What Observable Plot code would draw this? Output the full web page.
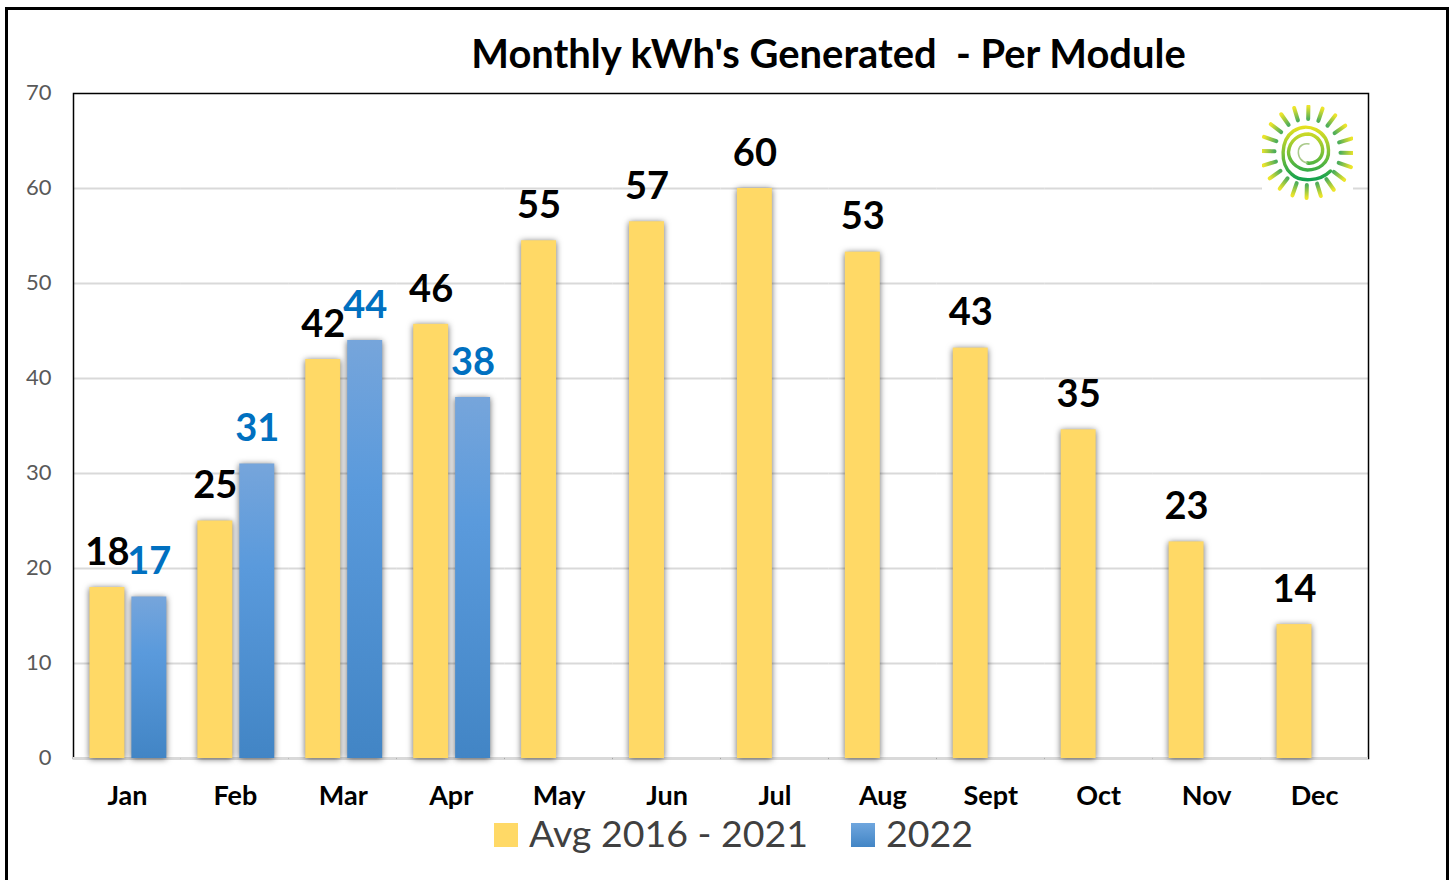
<!DOCTYPE html>
<html>
<head>
<meta charset="utf-8">
<script src="https://cdn.jsdelivr.net/npm/d3@7"></script>
<script src="https://cdn.jsdelivr.net/npm/@observablehq/plot@0.6"></script>
<style>
  html,body{margin:0;padding:0;background:#fff;width:1449px;height:880px;overflow:hidden;position:relative;font-family:Lato,"Open Sans",sans-serif}
  #chart{position:absolute;left:0;top:0}
  #border{position:absolute;left:5px;top:7px;width:1438px;height:900px;border:3px solid #000;box-sizing:content-box;pointer-events:none}
  #title{position:absolute;left:0;top:29px;width:1449px;padding-left:208px;box-sizing:border-box;text-align:center;font-size:39.9px;font-weight:700;line-height:48px;color:#000;white-space:pre}
  .lg{position:absolute;font-size:37.5px;line-height:44px;color:#404040;white-space:pre}
  .sw{position:absolute;width:24px;height:24px;top:823px}
  #logo{position:absolute;left:1262px;top:105px}
  .shadowBars rect{filter:drop-shadow(0 1px 3px rgba(0,0,0,.6))}
</style>
</head>
<body>
<div id="chart"></div>
<div id="title">Monthly kWh's Generated  - Per Module</div>
<div class="sw" style="left:494px;background:#FFD966"></div>
<div class="lg" style="left:529px;top:811px">Avg 2016 - 2021</div>
<div class="sw" style="left:851px;background:linear-gradient(#6FA6DE,#4285C5)"></div>
<div class="lg" style="left:886px;top:811px">2022</div>
<svg id="logo" width="91" height="95" viewBox="-45.5 -47 91 95"></svg>
<div id="border"></div>
<script>
const months = ["Jan","Feb","Mar","Apr","May","Jun","Jul","Aug","Sept","Oct","Nov","Dec"];
const avgValues = [18,25,42,45.7,54.5,56.5,60,53.3,43.2,34.6,22.8,14.1];
const avgLabels = [18,25,42,46,55,57,60,53,43,35,23,14];
const values2022 = [17,31,44,38];
const labels2022 = [17,31,44,38];
const seriesNames = ["Avg 2016 - 2021","2022"];
const yTicks = [0,10,20,30,40,50,60,70];
const gridTicks = [10,20,30,40,50,60];

const rows = [
  ...avgValues.map((v,i)=>({month:months[i],series:seriesNames[0],value:v,label:avgLabels[i]})),
  ...values2022.map((v,i)=>({month:months[i],series:seriesNames[1],value:v,label:labels2022[i]}))
];

const defs = () => {
  const d = d3.create("svg:defs");
  const g = d.append("linearGradient").attr("id","blueBar").attr("x1",0).attr("x2",0).attr("y1",0).attr("y2",1);
  g.append("stop").attr("offset","0").attr("stop-color","#76A5DB");
  g.append("stop").attr("offset","0.35").attr("stop-color","#5A9ADC");
  g.append("stop").attr("offset","1").attr("stop-color","#4285C5");
  return d.node();
};

const plot = Plot.plot({
  width:1449, height:880,
  marginLeft:73, marginRight:81, marginTop:93, marginBottom:122,
  style:{background:"transparent",fontFamily:"Lato, sans-serif"},
  fx:{domain:months,padding:0,round:false,label:null},
  x:{domain:seriesNames,paddingInner:0.167,paddingOuter:0.37,align:0.53,round:false,axis:null},
  y:{domain:[0,70],label:null},
  marks:[
    defs,
    Plot.ruleY(gridTicks,{stroke:"#D9D9D9",strokeWidth:2}),
    Plot.axisY({ticks:yTicks,tickSize:0,tickPadding:22,fontSize:22,dy:-1,label:null,color:"#595959",tickFormat:d=>String(d)}),
    Plot.axisFx({anchor:"bottom",tickSize:0,tickPadding:28,fontSize:27,fontWeight:700,dy:-1,label:null,color:"#000"}),
    Plot.frame({facet:"super",stroke:"#000",strokeWidth:1.5}),
    Plot.ruleY([0],{stroke:"#D9D9D9",strokeWidth:3}),
    Plot.barY(rows,{fx:"month",x:"series",y:"value",className:"shadowBars",
      fill:d=>d.series===seriesNames[0]?"#FFD966":"url(#blueBar)"}),
    Plot.text(rows,{fx:"month",x:"series",y:"value",text:"label",dy:-35,fontSize:38,fontWeight:700,
      fill:d=>d.series===seriesNames[0]?"#000":"#0070C0"})
  ]
});
document.getElementById("chart").append(plot);

// Sun logo (decoration)
const logo = d3.select("#logo");
const lg = logo.append("defs");
const grad = (id,x1,y1,x2,y2,a,b)=>{
  const g=lg.append("linearGradient").attr("id",id).attr("gradientUnits","userSpaceOnUse")
    .attr("x1",x1).attr("y1",y1).attr("x2",x2).attr("y2",y2);
  g.append("stop").attr("offset",0).attr("stop-color",a);
  g.append("stop").attr("offset",1).attr("stop-color",b);
};
logo.append("rect").attr("x",-45.5).attr("y",-47).attr("width",91).attr("height",95).attr("fill","#fff");
const art = logo.append("g").style("filter","blur(0.5px)");
d3.range(20).forEach(i=>{
  const t=i/20*2*Math.PI+0.02, s=Math.sin(t), c=-Math.cos(t);
  const x1=33*s,y1=33*c,x2=46*s,y2=46*c,id="ray"+i;
  grad(id,x1,y1,x2,y2,"#4FAE5A","#EDE52A");
  art.append("line").attr("x1",x1).attr("y1",y1).attr("x2",x2).attr("y2",y2)
    .attr("stroke",`url(#${id})`).attr("stroke-width",4).attr("stroke-linecap","round");
});
grad("spiral",0,-28,0,29,"#F0E41E","#0FA050");
art.append("path")
  .attr("d","M23 19 C12 30 -8 30 -16 22 C-28 12 -27 -12 -14 -21 C0 -30 20 -22 21 -2 C22 12 10 18 0 18 C-12 17 -19 8 -19 0 C-18 -12 -8 -18 1 -18 C10 -17 16 -8 15 0 C14 8 6 12 0 11")
  .attr("fill","none").attr("stroke","url(#spiral)").attr("stroke-width",3.4).attr("stroke-linecap","round");
art.append("path")
  .attr("d","M0 11 C-6 10 -10 5 -9 -2 C-8 -7 -3 -9 2 -8")
  .attr("fill","none").attr("stroke","#A9C98A").attr("stroke-width",1.5);
</script>
</body>
</html>
